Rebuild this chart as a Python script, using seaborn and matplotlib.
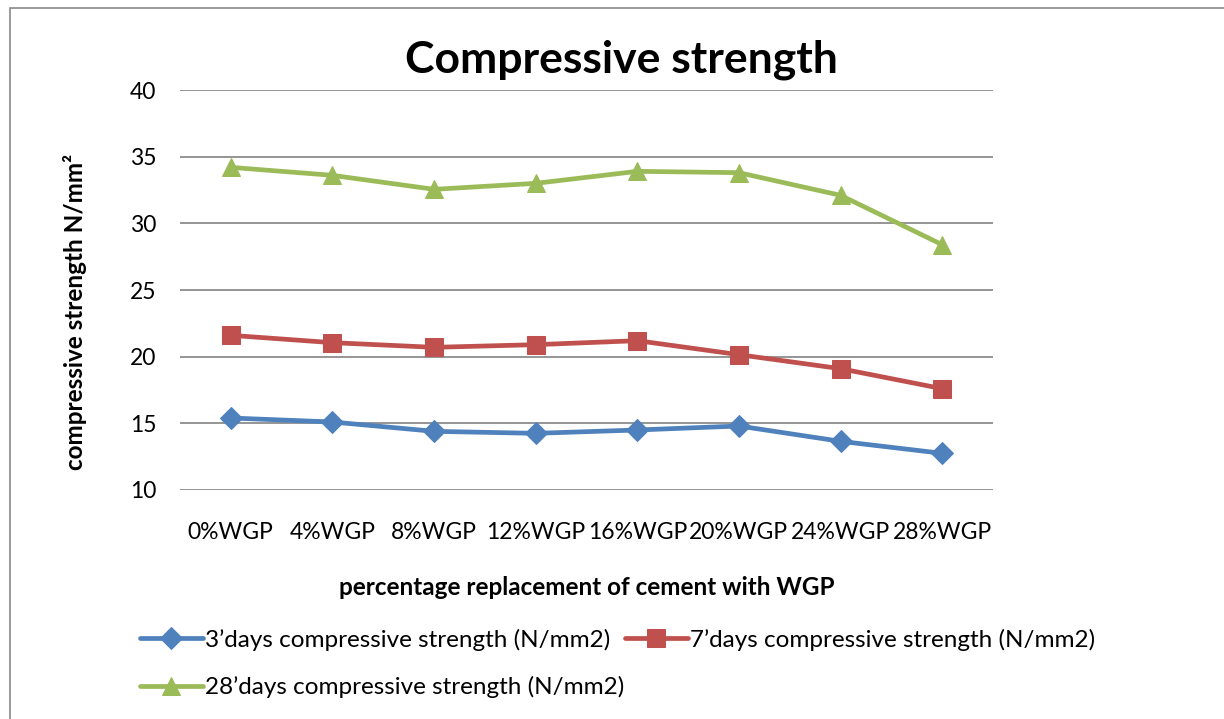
import matplotlib
matplotlib.use("Agg")
import matplotlib.pyplot as plt
import seaborn as sns
import pandas as pd
from matplotlib.patches import Rectangle

categories = ["0%WGP", "4%WGP", "8%WGP", "12%WGP", "16%WGP", "20%WGP", "24%WGP", "28%WGP"]
days3 = [15.4, 15.1, 14.4, 14.25, 14.5, 14.8, 13.65, 12.75]
days7 = [21.6, 21.05, 20.7, 20.9, 21.2, 20.15, 19.1, 17.6]
days28 = [34.2, 33.6, 32.55, 33.0, 33.9, 33.8, 32.1, 28.4]
series_names = ["3\u2019days compressive strength (N/mm2)",
                "7\u2019days compressive strength (N/mm2)",
                "28\u2019days compressive strength (N/mm2)"]
y_ticks = [10, 15, 20, 25, 30, 35, 40]

sns.set_theme(style="white")
plt.rcParams['font.family'] = ['Lato', 'DejaVu Sans']
plt.rcParams.update({"text.color": "black", "axes.labelcolor": "black",
                     "xtick.color": "black", "ytick.color": "black"})

fig = plt.figure(figsize=(12.24, 7.19), dpi=100)
ax = fig.add_axes([180/1224, 1-490/719, (993-180)/1224, 400/719])

colors = ["#4F81BD", "#C0504D", "#9BBB59"]
markers = ["D", "s", "^"]
msizes = [11, 13, 13]
for name, vals, c, m, ms in zip(series_names, [days3, days7, days28], colors, markers, msizes):
    df = pd.DataFrame({"x": categories, "y": vals})
    sns.lineplot(data=df, x="x", y="y", ax=ax, color=c, marker=m, markersize=ms,
                 markeredgecolor=c, linewidth=3.4, label=name, sort=False)

ax.set_xlim(-0.5, len(categories) - 0.5)
ax.set_ylim(10, 40)
ax.set_yticks(y_ticks)
ax.yaxis.grid(True, color="#8c8c8c", linewidth=1.3)
ax.xaxis.grid(False)
for s in ax.spines.values():
    s.set_visible(False)
ax.tick_params(axis="x", length=0, pad=23, labelsize=16.5)
ax.tick_params(axis="y", length=0, pad=17, labelsize=16.5)
ax.set_xlabel("percentage replacement of cement with WGP", fontsize=17.5,
              fontweight="bold", labelpad=24)
ax.set_ylabel("compressive strength N/mm\u00b2", fontsize=17.5, fontweight="bold")
ax.yaxis.set_label_coords(-0.129, 0.445)
ax.yaxis.label.set_verticalalignment("center")
fig.text(621/1224, 1-60/719, "Compressive strength", fontsize=32, fontweight="bold",
         ha="center", va="center")

h, l = ax.get_legend_handles_labels()
ax.get_legend().remove()
order = [0, 2, 1]
fig.legend([h[i] for i in order], [l[i] for i in order], ncol=2, frameon=False,
           loc="upper left", bbox_to_anchor=(130/1224, 1-619/719), fontsize=17.5,
           handlelength=2.6, handletextpad=0.1, columnspacing=0.0, labelspacing=1.05,
           borderaxespad=0)

fig.patches.append(Rectangle((10/1224, -0.05), 1.2, 1-8/719+0.05, transform=fig.transFigure,
                             fill=False, edgecolor="#8a8a8a", linewidth=1.2))

fig.savefig("out.png", dpi=100)
